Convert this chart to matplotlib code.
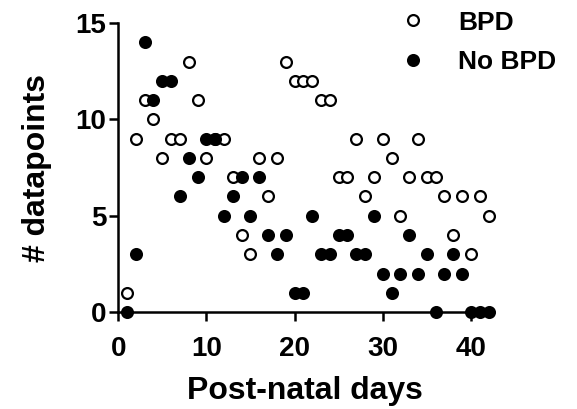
import matplotlib
matplotlib.use('Agg')
import matplotlib.pyplot as plt
import numpy as np

plt.rcParams['font.family'] = ['Liberation Sans', 'DejaVu Sans']
plt.rcParams['font.weight'] = 'bold'

# post-natal day
days = np.arange(1, 43)

# number of datapoints per day
bpd = [1, 9, 11, 10, 8, 9, 9, 13, 11, 8,
       9, 9, 7, 4, 3, 8, 6, 8, 13, 12,
       12, 12, 11, 11, 7, 7, 9, 6, 7, 9,
       8, 5, 7, 9, 7, 7, 6, 4, 6, 3,
       6, 5]
no_bpd = [0, 3, 14, 11, 12, 12, 6, 8, 7, 9,
          9, 5, 6, 7, 5, 7, 4, 3, 4, 1,
          1, 5, 3, 3, 4, 4, 3, 3, 5, 2,
          1, 2, 4, 2, 3, 0, 2, 3, 2, 0,
          0, 0]

fig = plt.figure(figsize=(5.77, 4.09), dpi=100)
ax = fig.add_axes([0.2048, 0.237, 0.648, 0.7066])

ax.plot(days, bpd, 'o', markersize=7.8, markerfacecolor='white',
        markeredgecolor='black', markeredgewidth=1.6, label='BPD', clip_on=False, zorder=3)
ax.plot(days, no_bpd, 'o', markersize=7.8, markerfacecolor='black',
        markeredgecolor='black', markeredgewidth=1.6, label='No BPD', clip_on=False, zorder=3)

ax.set_xlim(0, 42.4)
ax.set_ylim(0, 15)
ax.set_xticks([0, 10, 20, 30, 40])
ax.set_yticks([0, 5, 10, 15])

for side in ['top', 'right']:
    ax.spines[side].set_visible(False)
for side in ['left', 'bottom']:
    ax.spines[side].set_linewidth(1.8)

ax.tick_params(axis='both', direction='out', length=6.5, width=1.8, labelsize=20)
ax.tick_params(axis='x', pad=11)
ax.tick_params(axis='y', pad=2)
for lab in ax.get_xticklabels() + ax.get_yticklabels():
    lab.set_fontweight('bold')

ax.set_xlabel('Post-natal days', fontsize=23, fontweight='bold', labelpad=10)
ax.set_ylabel('# datapoints', fontsize=23, fontweight='bold', labelpad=17)

leg = ax.legend(loc='upper left', bbox_to_anchor=(0.725, 1.08), frameon=False,
                fontsize=19, handletextpad=1.2, labelspacing=0.58,
                handlelength=1.0, borderaxespad=0)
for t in leg.get_texts():
    t.set_fontweight('bold')

fig.savefig('out.png', dpi=100)
